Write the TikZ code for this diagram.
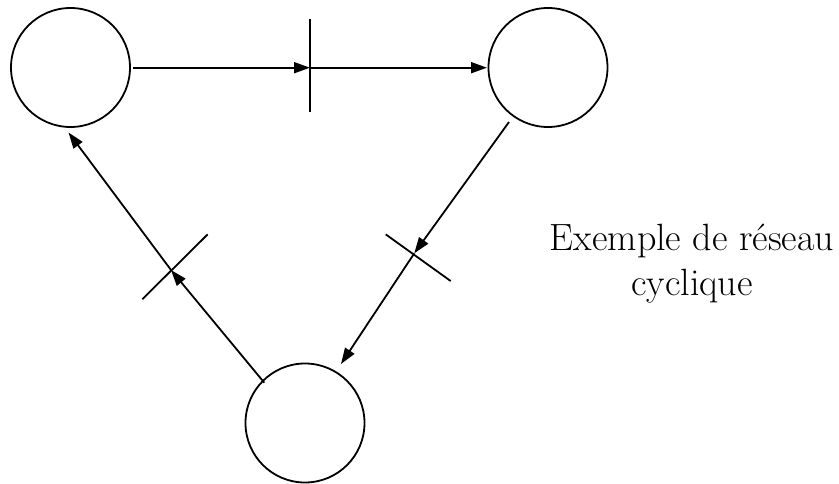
\documentclass[tikz,border=0pt]{standalone}
\usetikzlibrary{arrows.meta}
\begin{document}
\begin{tikzpicture}[x=1pt,y=-1pt,
  place/.style={circle,draw,line width=1.8pt,minimum size=119pt,inner sep=0pt},
  trans/.style={rectangle,inner sep=0pt,outer sep=0pt,minimum width=0pt},
  barline/.style={line width=1.8pt},
  arc/.style={line width=1.8pt,-{Triangle[length=16pt,width=11pt]}},
  plain/.style={line width=1.8pt},
  label/.style={align=center,inner sep=0pt,font=\fontsize{38}{45}\selectfont}]
\useasboundingbox (0,0) rectangle (839,484);
% places
\node[place] (p1) at (70.5,67.5) {};
\node[place] (p2) at (548,67.5) {};
\node[place] (p3) at (305,423) {};
% transitions
\node[trans,minimum height=93pt] (t1) at (310,65.5) {};
\node[trans,minimum height=80pt,rotate=54.3] (t2) at (418.2,257.7) {};
\node[trans,minimum height=92pt,rotate=-45.2] (t3) at (175,266.8) {};
\draw[barline] (t1.north) -- (t1.south);
\draw[barline] (t2.north) -- (t2.south);
\draw[barline] (t3.north) -- (t3.south);
% junctions and arc ends
\coordinate (j1) at (310,67.7);
\coordinate (j2) at (414.3,253.3);
\coordinate (j3) at (171,270);
\coordinate (o1) at (133,67.7);
\coordinate (i2) at (487,67.7);
\coordinate (o2) at (509,122);
\coordinate (i3) at (341,364);
\coordinate (o3) at (264.3,382.7);
\coordinate (i1) at (68.5,132.5);
% arcs
\draw[arc] (o1) -- (j1);
\draw[arc] (j1) -- (i2);
\draw[arc] (o2) -- (j2);
\draw[arc] (j2) -- (i3);
\draw[arc] (o3) -- (j3);
\draw[arc] (j3) -- (i1);
% caption
\node[label] (cap) at (692,264) {Exemple de réseau\\cyclique};
\end{tikzpicture}
\end{document}
